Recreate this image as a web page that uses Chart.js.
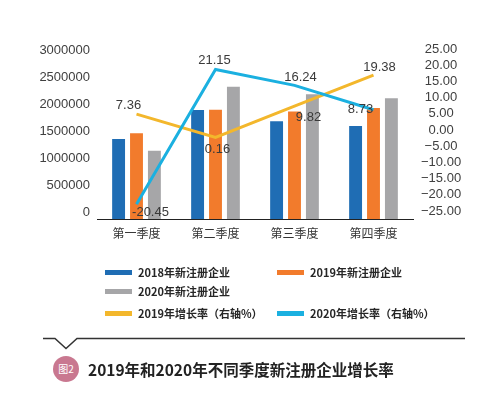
<!DOCTYPE html>
<html>
<head>
<meta charset="utf-8">
<script src="https://cdn.jsdelivr.net/npm/chart.js@4.4.0/dist/chart.umd.min.js"></script>
<style>
  html, body { margin: 0; padding: 0; background: #fff; }
  body { width: 490px; height: 401px; position: relative; overflow: hidden; font-family: "Noto Sans CJK SC", "Liberation Sans", sans-serif; }
  #wrap { position: absolute; left: 0; top: 0; width: 490px; height: 250px; }
  #legend { position: absolute; left: 0; top: 0; width: 490px; height: 330px; pointer-events: none; }
  .li { position: absolute; height: 16px; line-height: 16px; font-size: 11px; font-weight: bold; color: #262626; white-space: nowrap; }
  .sw { position: absolute; left: 0; top: 6px; width: 27px; height: 5px; }
  .li span { position: absolute; left: 33px; top: 0; }
  #title { position: absolute; left: 0; top: 330px; width: 490px; height: 71px; }
  #badge { position: absolute; left: 53px; top: 26px; width: 26px; height: 26px; border-radius: 13px; background: #c97890; color: #fff; font-size: 10px; line-height: 26px; text-align: center; }
  #ttext { position: absolute; left: 88px; top: 28px; line-height: 22px; font-size: 15.5px; font-weight: bold; color: #222; white-space: nowrap; }
</style>
</head>
<body>
<div id="wrap"><canvas id="c" width="490" height="250"></canvas></div>
<div id="legend"></div>
<div id="title">
  <svg width="490" height="30" style="position:absolute;left:0;top:0">
    <polyline points="43,8.5 55,8.5 66,18.5 77,8.5 465,8.5" fill="none" stroke="#333" stroke-width="1.5"/>
  </svg>
  <div id="badge">图2</div>
  <div id="ttext">2019年和2020年不同季度新注册企业增长率</div>
</div>
<script>
const categories = ["第一季度", "第二季度", "第三季度", "第四季度"];
const reg2018 = [1480000, 2020000, 1810000, 1720000];
const reg2019 = [1590000, 2023000, 1990000, 2055000];
const reg2020 = [1265000, 2450000, 2310000, 2235000];
const growth2019 = [7.36, 0.16, 9.82, 19.38];
const growth2020 = [-20.45, 21.15, 16.24, 8.73];
const leftTicks = [0, 500000, 1000000, 1500000, 2000000, 2500000, 3000000];
const rightTicks = [-25, -20, -15, -10, -5, 0, 5, 10, 15, 20, 25];
const seriesNames = ["2018年新注册企业", "2019年新注册企业", "2020年新注册企业", "2019年增长率（右轴%）", "2020年增长率（右轴%）"];

const colors = ["#1f6db4", "#f27b2c", "#a6a6a8", "#f3b72c", "#1bb0e0"];
// label offsets (dx, dy) relative to points, per line series
const labelOffsets2019 = [[-8, -9], [2, 12], [14, 11], [6, -8]];
const labelOffsets2020 = [[14, 8], [-1, -9], [6, -8], [-13, 0]];

const pointLabels = {
  id: 'pointLabels',
  afterDatasetsDraw(chart) {
    const ctx = chart.ctx;
    ctx.save();
    ctx.font = '13px "Liberation Sans", Arial, sans-serif';
    ctx.fillStyle = '#3a3a3a';
    ctx.textAlign = 'center';
    ctx.textBaseline = 'middle';
    [[3, growth2019, labelOffsets2019], [4, growth2020, labelOffsets2020]].forEach(([di, vals, offs]) => {
      const meta = chart.getDatasetMeta(di);
      meta.data.forEach((pt, i) => {
        ctx.fillText(vals[i].toFixed(2), pt.x + offs[i][0], pt.y + offs[i][1]);
      });
    });
    ctx.restore();
  }
};

const tickFont = { family: '"Liberation Sans", Arial, sans-serif', size: 13 };
const barOpts = { yAxisID: 'y', barPercentage: 0.72, categoryPercentage: 0.68 };

const chart = new Chart(document.getElementById('c'), {
  type: 'bar',
  data: {
    labels: categories,
    datasets: [
      Object.assign({ label: seriesNames[0], data: reg2018, backgroundColor: colors[0], order: 3 }, barOpts),
      Object.assign({ label: seriesNames[1], data: reg2019, backgroundColor: colors[1], order: 4 }, barOpts),
      Object.assign({ label: seriesNames[2], data: reg2020, backgroundColor: colors[2], order: 5 }, barOpts),
      { type: 'line', label: seriesNames[3], data: growth2019, yAxisID: 'y1', borderColor: colors[3], backgroundColor: colors[3], borderWidth: 3, pointRadius: 0, tension: 0, order: 2 },
      { type: 'line', label: seriesNames[4], data: growth2020, yAxisID: 'y1', borderColor: colors[4], backgroundColor: colors[4], borderWidth: 3, pointRadius: 0, tension: 0, order: 1 }
    ]
  },
  options: {
    responsive: false,
    animation: false,
    devicePixelRatio: 1,
    layout: { padding: { top: 57, left: 0, right: 0, bottom: 0 } },
    plugins: { legend: { display: false }, tooltip: { enabled: false } },
    scales: {
      x: {
        offset: true,
        grid: { display: false, drawTicks: false },
        border: { display: true, color: '#222', width: 1 },
        ticks: { color: '#333', padding: 7, font: { family: '"Noto Sans CJK SC", sans-serif', size: 12 } },
        afterFit(s) { s.height = 31; }
      },
      y: {
        position: 'left',
        min: 0, max: 3000000,
        afterBuildTicks(s) { s.ticks = leftTicks.map(v => ({ value: v })); },
        grid: { display: false, drawTicks: false },
        border: { display: false },
        ticks: { autoSkip: false, color: '#404040', padding: 7, labelOffset: -7, font: tickFont, callback: v => String(v) },
        afterFit(s) { s.width = 97; }
      },
      y1: {
        position: 'right',
        min: -25, max: 25,
        afterBuildTicks(s) { s.ticks = rightTicks.map(v => ({ value: v })); },
        grid: { display: false, drawTicks: false },
        border: { display: false },
        ticks: { autoSkip: false, color: '#404040', padding: 8, labelOffset: -8, crossAlign: 'center', font: tickFont,
          callback: v => (v < 0 ? '\u2212' + Math.abs(v).toFixed(2) : v.toFixed(2)) },
        afterFit(s) { s.width = 77; }
      }
    }
  },
  plugins: [pointLabels]
});

// legend built from chart datasets
const legendPos = {
  [seriesNames[0]]: [105, 264],
  [seriesNames[1]]: [277, 264],
  [seriesNames[2]]: [105, 283],
  [seriesNames[3]]: [105, 305],
  [seriesNames[4]]: [277, 305]
};
const lg = document.getElementById('legend');
chart.data.datasets.forEach(ds => {
  const p = legendPos[ds.label];
  const d = document.createElement('div');
  d.className = 'li';
  d.style.left = p[0] + 'px';
  d.style.top = p[1] + 'px';
  const sw = document.createElement('div');
  sw.className = 'sw';
  sw.style.background = ds.type === 'line' ? ds.borderColor : ds.backgroundColor;
  const t = document.createElement('span');
  t.textContent = ds.label;
  d.appendChild(sw); d.appendChild(t);
  lg.appendChild(d);
});
</script>
</body>
</html>
